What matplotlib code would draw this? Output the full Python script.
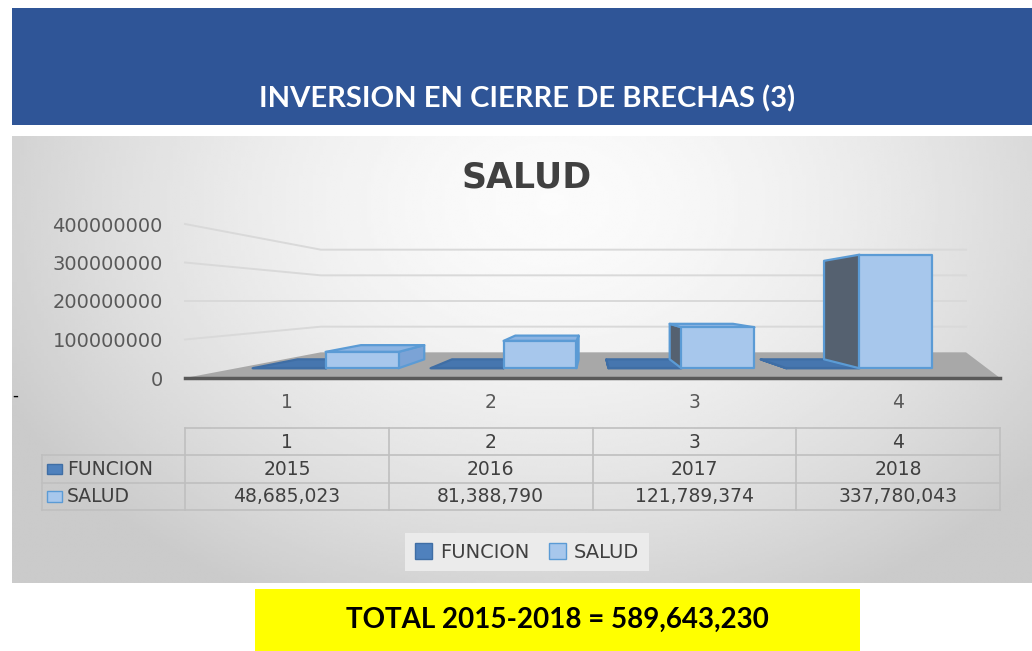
import numpy as np
import matplotlib
matplotlib.use('Agg')
import matplotlib.pyplot as plt
from matplotlib.patches import Polygon, Rectangle, Patch

# data
categories = ['1', '2', '3', '4']
funcion = [2015, 2016, 2017, 2018]
salud = [48685023, 81388790, 121789374, 337780043]
series_names = ['FUNCION', 'SALUD']
yticks = [0, 100000000, 200000000, 300000000, 400000000]

W, H = 1032, 651
def fx(x): return x / W
def fy(y): return 1 - y / H

NARROW = ['Lato', 'DejaVu Sans']
BODY = ['DejaVu Sans']

# fake excel perspective (vanishing point in data units)
VPU, VPV = 2.0, 2.0e8
W0, W1 = 0.29, 0.64      # depth of the bar row
WALL_R = 4.75

def proj(u, v, w):
    s = 1.0 / (1.0 + 0.5 * w)
    return VPU + s * (u - VPU), VPV + s * (v - VPV)

colors = {
    'FUNCION': dict(front='#4F81BD', top='#4676AF', left='#3B5E86', right='#3B5E86', edge='#3F6EA5'),
    'SALUD': dict(front='#A7C7EC', top='#8DB4E2', left='#556170', right='#7BA3D6', edge='#5B9BD5'),
}

fig = plt.figure(figsize=(W / 100, H / 100), dpi=100)
fig.patch.set_facecolor('white')

# gradient background of chart area
bg = fig.add_axes([fx(12), fy(583), fx(1032) - fx(12), fy(136) - fy(583)])
yy, xx = np.mgrid[0:1:200j, 0:1:300j]
r = np.sqrt(((xx - 0.53) / 0.6) ** 2 + ((yy - 0.15) / 1.0) ** 2)
g = 0.985 - 0.19 * np.clip(r, 0, 1) ** 1.6
bg.imshow(g, cmap='gray', vmin=0, vmax=1, aspect='auto', interpolation='bilinear')
bg.axis('off')

# header band
fig.patches.append(Rectangle((fx(12), fy(125)), 1 - fx(12), fy(8) - fy(125),
                             transform=fig.transFigure, facecolor='#2F5597', edgecolor='none'))
fig.text(fx(527), fy(99), 'INVERSION EN CIERRE DE BRECHAS (3)', color='white',
         fontsize=21, fontweight='bold', family=NARROW, ha='center', va='center')

fig.text(fx(527), fy(177), 'SALUD', color='#404040', fontsize=25, fontweight='bold',
         family=BODY, ha='center', va='center')

# chart axes
ax = fig.add_axes([fx(185), fy(378), fx(1000) - fx(185), fy(224) - fy(378)])
ax.set_xlim(0, 4)
ax.set_ylim(0, 4e8)
ax.patch.set_alpha(0)
for sp in ax.spines.values():
    sp.set_visible(False)

# walls gridlines
for v in yticks[1:]:
    a = proj(0, v, 0)
    b = proj(0, v, 1)
    c = proj(WALL_R, v, 1)
    ax.plot([a[0], b[0], c[0]], [a[1], b[1], c[1]], color='#D9D9D9', lw=1.4,
            clip_on=False, zorder=1)

# floor
floor = [proj(0, 0, 0), proj(4, 0, 0), proj(WALL_R, 0, 1), proj(0, 0, 1)]
ax.add_patch(Polygon(floor, closed=True, facecolor='#A8A8A8', edgecolor='none', zorder=2))
ax.plot([0, 4], [0, 0], color='#595959', lw=2.5, clip_on=False, zorder=3)

def draw_box(u0, u1, val, c, z):
    faces = []
    if u0 > VPU:
        faces.append(([proj(u0, 0, W0), proj(u0, 0, W1), proj(u0, val, W1), proj(u0, val, W0)], c['left']))
    if u1 < VPU:
        faces.append(([proj(u1, 0, W0), proj(u1, 0, W1), proj(u1, val, W1), proj(u1, val, W0)], c['right']))
    if val < VPV:
        faces.append(([proj(u0, val, W0), proj(u1, val, W0), proj(u1, val, W1), proj(u0, val, W1)], c['top']))
    faces.append(([proj(u0, 0, W0), proj(u1, 0, W0), proj(u1, val, W0), proj(u0, val, W0)], c['front']))
    for pts, fc in faces:
        ax.add_patch(Polygon(pts, closed=True, facecolor=fc, edgecolor=c['edge'],
                             lw=1.6, joinstyle='round', zorder=z, clip_on=False))

for i in range(len(categories)):
    draw_box(i + 0.09, i + 0.5, funcion[i], colors['FUNCION'], 4)
    draw_box(i + 0.5, i + 0.91, salud[i], colors['SALUD'], 5)

ax.set_yticks(yticks)
ax.set_yticklabels([str(v) for v in yticks], fontsize=14, color='#595959', family=BODY)
ax.set_xticks([i + 0.5 for i in range(len(categories))])
ax.set_xticklabels(categories, fontsize=13.5, color='#595959', family=BODY)
ax.tick_params(axis='y', length=0, pad=16)
ax.tick_params(axis='x', length=0, pad=11)

# data table
tab = fig.add_axes([fx(42), fy(510), fx(1000) - fx(42), fy(428) - fy(510)])
tab.set_xlim(-0.702, 4)
tab.set_ylim(3, 0)
tab.axis('off')
lc = '#BFBFBF'
tab.plot([0, 4], [0, 0], color=lc, lw=1.2, clip_on=False)
for yv in [1, 2, 3]:
    tab.plot([-0.702, 4], [yv, yv], color=lc, lw=1.2, clip_on=False)
tab.plot([-0.702, -0.702], [1, 3], color=lc, lw=1.2, clip_on=False)
for xv in range(5):
    tab.plot([xv, xv], [0, 3], color=lc, lw=1.2, clip_on=False)

tfont = dict(fontsize=13.5, color='#404040', family=BODY, va='center')
for i, cat in enumerate(categories):
    tab.text(i + 0.5, 0.52, cat, ha='center', **tfont)
    tab.text(i + 0.5, 1.52, str(funcion[i]), ha='center', **tfont)
    tab.text(i + 0.5, 2.52, f'{salud[i]:,}', ha='center', **tfont)
for k, name in enumerate(series_names):
    c = colors[name]
    tab.add_patch(Rectangle((-0.677, 1.5 + k - 0.2), 0.075, 0.4, facecolor=c['front'],
                            edgecolor=c['edge'], lw=1, clip_on=False))
    tab.text(-0.58, 1.52 + k, name, ha='left', **tfont)

# legend
handles = [Patch(facecolor=colors[n]['front'], edgecolor=colors[n]['edge']) for n in series_names]
leg = fig.legend(handles, series_names, loc='center', bbox_to_anchor=(fx(527), fy(552)),
                 ncol=2, frameon=True, fancybox=False, facecolor='#EBEBEB', edgecolor='none',
                 framealpha=1, handlelength=0.9, handleheight=0.9, handletextpad=0.4,
                 columnspacing=1.0, borderpad=0.5, prop=dict(family=BODY, size=14))
for t in leg.get_texts():
    t.set_color('#404040')

# stray dash at the left edge
fig.text(fx(12), fy(396), '-', fontsize=12, color='black', va='center')

# total box
fig.patches.append(Rectangle((fx(255), fy(651)), fx(860) - fx(255), fy(589) - fy(651),
                             transform=fig.transFigure, facecolor='#FFFF00', edgecolor='none'))
fig.text(fx(557), fy(620), f'TOTAL 2015-2018 = {sum(salud):,}', color='black',
         fontsize=20, fontweight='bold', family=NARROW, ha='center', va='center')

fig.savefig('out.png', dpi=100)
